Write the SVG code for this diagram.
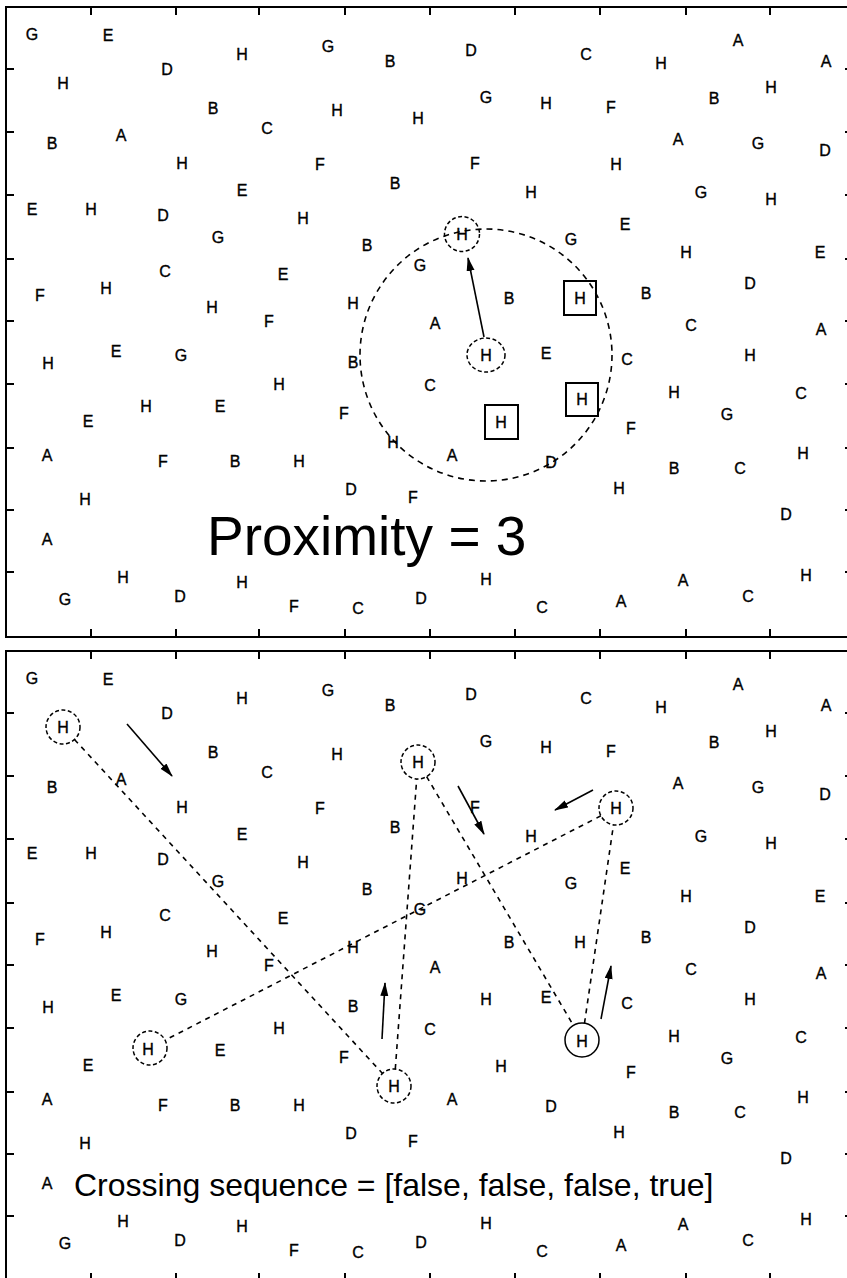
<svg xmlns="http://www.w3.org/2000/svg" width="847" height="1278" viewBox="0 0 847 1278">
<style>
.frame{fill:none;stroke:#000;stroke-width:2}
.tick{stroke:#000;stroke-width:2}
.l{font-family:"Liberation Sans",Arial,sans-serif;font-size:16px;text-anchor:middle;fill:#000;stroke:#000;stroke-width:0.35}
.big{font-family:"Liberation Sans",Arial,sans-serif;fill:#000}
.dc{fill:none;stroke:#000;stroke-width:1.5;stroke-dasharray:4 2.5}
.sc{fill:none;stroke:#000;stroke-width:1.5}
.sq{fill:none;stroke:#000;stroke-width:2}
.dl{fill:none;stroke:#000;stroke-width:1.6;stroke-dasharray:5 5}
.ar{fill:none;stroke:#000;stroke-width:1.6;marker-end:url(#ah)}
</style>
<defs>
<marker id="ah" markerUnits="userSpaceOnUse" markerWidth="14" markerHeight="9" refX="13" refY="4" orient="auto">
<path d="M0,0 L14,4 L0,8 Z" fill="#000"/>
</marker>
<g id="ticks">
<path class="tick" d="M91,7v8M176,7v8M259,7v8M345,7v8M430,7v8M515,7v8M600,7v8M686,7v8M770,7v8M91,637v-8M176,637v-8M259,637v-8M345,637v-8M430,637v-8M515,637v-8M600,637v-8M686,637v-8M770,637v-8M6,69h8M6,132h8M6,195h8M6,259h8M6,321h8M6,384h8M6,448h8M6,510h8M6,572h8M853,69h-8M853,132h-8M853,195h-8M853,259h-8M853,321h-8M853,384h-8M853,448h-8M853,510h-8M853,572h-8"/>
</g>
</defs>
<rect width="847" height="1278" fill="#fff"/>

<g id="panel-top">
<rect class="frame" x="6" y="7" width="847" height="630"/>
<use href="#ticks"/>
<g id="letters-top" class="l" transform="translate(0,6)">
<text x="32" y="34">G</text><text x="108" y="35">E</text><text x="738" y="40">A</text><text x="328" y="46">G</text><text x="471" y="50">D</text><text x="242" y="54">H</text><text x="586" y="54">C</text><text x="390" y="61">B</text><text x="826" y="61">A</text><text x="661" y="63">H</text><text x="167" y="69">D</text><text x="63" y="83">H</text><text x="771" y="87">H</text><text x="486" y="97">G</text><text x="714" y="98">B</text><text x="546" y="103">H</text><text x="611" y="107">F</text><text x="213" y="108">B</text><text x="337" y="110">H</text><text x="418" y="118">H</text><text x="267" y="128">C</text><text x="121" y="135">A</text><text x="678" y="139">A</text><text x="52" y="143">B</text><text x="758" y="143">G</text><text x="825" y="150">D</text><text x="182" y="163">H</text><text x="320" y="164">F</text><text x="475" y="163">F</text><text x="616" y="164">H</text><text x="395" y="183">B</text><text x="242" y="190">E</text><text x="531" y="192">H</text><text x="701" y="192">G</text><text x="771" y="199">H</text><text x="32" y="209">E</text><text x="91" y="209">H</text><text x="163" y="215">D</text><text x="303" y="218">H</text><text x="625" y="224">E</text><text x="462" y="234">H</text><text x="218" y="237">G</text><text x="571" y="239">G</text><text x="367" y="245">B</text><text x="686" y="252">H</text><text x="820" y="252">E</text><text x="420" y="265">G</text><text x="165" y="271">C</text><text x="283" y="274">E</text><text x="750" y="283">D</text><text x="106" y="288">H</text><text x="646" y="293">B</text><text x="40" y="295">F</text><text x="509" y="298">B</text><text x="580" y="298">H</text><text x="353" y="303">H</text><text x="212" y="307">H</text><text x="269" y="321">F</text><text x="435" y="323">A</text><text x="691" y="325">C</text><text x="821" y="329">A</text><text x="116" y="351">E</text><text x="546" y="353">E</text><text x="181" y="355">G</text><text x="486" y="355">H</text><text x="750" y="355">H</text><text x="627" y="359">C</text><text x="353" y="362">B</text><text x="48" y="363">H</text><text x="279" y="384">H</text><text x="430" y="385">C</text><text x="674" y="392">H</text><text x="801" y="393">C</text><text x="582" y="399">H</text><text x="146" y="406">H</text><text x="220" y="406">E</text><text x="344" y="413">F</text><text x="727" y="414">G</text><text x="88" y="421">E</text><text x="501" y="422">H</text><text x="631" y="428">F</text><text x="393" y="442">H</text><text x="803" y="453">H</text><text x="47" y="455">A</text><text x="452" y="455">A</text><text x="163" y="461">F</text><text x="235" y="461">B</text><text x="299" y="461">H</text><text x="551" y="462">D</text><text x="674" y="468">B</text><text x="740" y="468">C</text><text x="619" y="488">H</text><text x="351" y="489">D</text><text x="413" y="497">F</text><text x="85" y="499">H</text><text x="786" y="514">D</text><text x="47" y="539">A</text><text x="806" y="575">H</text><text x="123" y="577">H</text><text x="486" y="579">H</text><text x="683" y="580">A</text><text x="242" y="582">H</text><text x="180" y="596">D</text><text x="748" y="596">C</text><text x="421" y="598">D</text><text x="65" y="599">G</text><text x="621" y="601">A</text><text x="294" y="606">F</text><text x="542" y="607">C</text><text x="358" y="608">C</text>
</g>
<g id="top-nodes">
<g id="t-target"><circle class="dc" cx="462" cy="234" r="17.5"/></g>
<g id="t-center"><ellipse class="dc" cx="486" cy="355" rx="19" ry="17"/></g>
<g id="t-sq1"><rect class="sq" x="564" y="281" width="32" height="34"/></g>
<g id="t-sq2"><rect class="sq" x="566" y="383" width="32" height="33"/></g>
<g id="t-sq3"><rect class="sq" x="485" y="405" width="33" height="34"/></g>
</g>
<g id="top-connectors">
<circle class="dl" cx="486" cy="355" r="126" style="stroke-dasharray:6 5"/>
<line class="ar" x1="484" y1="337" x2="468" y2="258"/>
</g>
<text class="big" x="207" y="555" font-size="55">Proximity = 3</text>
</g>

<g id="panel-bottom">
<rect class="frame" x="6" y="651" width="847" height="630"/>
<use href="#ticks" y="644"/>
<g id="letters-bottom" class="l" transform="translate(0,650)">
<text x="32" y="34">G</text><text x="108" y="35">E</text><text x="738" y="40">A</text><text x="328" y="46">G</text><text x="471" y="50">D</text><text x="242" y="54">H</text><text x="586" y="54">C</text><text x="390" y="61">B</text><text x="826" y="61">A</text><text x="661" y="63">H</text><text x="167" y="69">D</text><text x="63" y="83">H</text><text x="771" y="87">H</text><text x="486" y="97">G</text><text x="714" y="98">B</text><text x="546" y="103">H</text><text x="611" y="107">F</text><text x="213" y="108">B</text><text x="337" y="110">H</text><text x="418" y="118">H</text><text x="267" y="128">C</text><text x="121" y="135">A</text><text x="678" y="139">A</text><text x="52" y="143">B</text><text x="758" y="143">G</text><text x="825" y="150">D</text><text x="182" y="163">H</text><text x="320" y="164">F</text><text x="475" y="163">F</text><text x="616" y="164">H</text><text x="395" y="183">B</text><text x="242" y="190">E</text><text x="531" y="192">H</text><text x="701" y="192">G</text><text x="771" y="199">H</text><text x="32" y="209">E</text><text x="91" y="209">H</text><text x="163" y="215">D</text><text x="303" y="218">H</text><text x="625" y="224">E</text><text x="462" y="234">H</text><text x="218" y="237">G</text><text x="571" y="239">G</text><text x="367" y="245">B</text><text x="686" y="252">H</text><text x="820" y="252">E</text><text x="420" y="265">G</text><text x="165" y="271">C</text><text x="283" y="274">E</text><text x="750" y="283">D</text><text x="106" y="288">H</text><text x="646" y="293">B</text><text x="40" y="295">F</text><text x="509" y="298">B</text><text x="580" y="298">H</text><text x="353" y="303">H</text><text x="212" y="307">H</text><text x="269" y="321">F</text><text x="435" y="323">A</text><text x="691" y="325">C</text><text x="821" y="329">A</text><text x="116" y="351">E</text><text x="546" y="353">E</text><text x="181" y="355">G</text><text x="486" y="355">H</text><text x="750" y="355">H</text><text x="627" y="359">C</text><text x="353" y="362">B</text><text x="48" y="363">H</text><text x="279" y="384">H</text><text x="430" y="385">C</text><text x="674" y="392">H</text><text x="801" y="393">C</text><text x="582" y="397">H</text><text x="148" y="405">H</text><text x="220" y="406">E</text><text x="344" y="413">F</text><text x="727" y="414">G</text><text x="88" y="421">E</text><text x="501" y="422">H</text><text x="631" y="428">F</text><text x="394" y="442">H</text><text x="803" y="453">H</text><text x="47" y="455">A</text><text x="452" y="455">A</text><text x="163" y="461">F</text><text x="235" y="461">B</text><text x="299" y="461">H</text><text x="551" y="462">D</text><text x="674" y="468">B</text><text x="740" y="468">C</text><text x="619" y="488">H</text><text x="351" y="489">D</text><text x="413" y="497">F</text><text x="85" y="499">H</text><text x="786" y="514">D</text><text x="47" y="539">A</text><text x="806" y="575">H</text><text x="123" y="577">H</text><text x="486" y="579">H</text><text x="683" y="580">A</text><text x="242" y="582">H</text><text x="180" y="596">D</text><text x="748" y="596">C</text><text x="421" y="598">D</text><text x="65" y="599">G</text><text x="621" y="601">A</text><text x="294" y="606">F</text><text x="542" y="607">C</text><text x="358" y="608">C</text>
</g>
<g id="bottom-nodes">
<g id="n1"><circle class="dc" cx="63" cy="727" r="17"/></g>
<g id="n2"><circle class="dc" cx="418" cy="762" r="17"/></g>
<g id="n3"><circle class="dc" cx="616" cy="808" r="17"/></g>
<g id="n4"><circle class="dc" cx="150" cy="1048" r="17"/></g>
<g id="n5"><circle class="dc" cx="394" cy="1086" r="17"/></g>
<g id="n6"><circle class="sc" cx="582" cy="1040" r="17"/></g>
</g>
<g id="bottom-connectors">
<line class="dl" x1="74.5" y1="739.5" x2="382.5" y2="1073.5"/>
<line class="dl" x1="395.3" y1="1069" x2="416.7" y2="779"/>
<line class="dl" x1="426.6" y1="776.6" x2="573.4" y2="1025.4"/>
<line class="dl" x1="584.5" y1="1023.2" x2="613.5" y2="824.8"/>
<line class="dl" x1="600.9" y1="815.8" x2="165.1" y2="1040.2"/>
<line class="ar" x1="127" y1="724" x2="172" y2="776"/>
<line class="ar" x1="458" y1="786" x2="484" y2="834"/>
<line class="ar" x1="593" y1="790" x2="555" y2="810"/>
<line class="ar" x1="382" y1="1039" x2="385" y2="983"/>
<line class="ar" x1="601" y1="1019" x2="611" y2="966"/>
</g>
<text class="big" x="74" y="1196" font-size="32">Crossing sequence = [false, false, false, true]</text>
</g>
</svg>
